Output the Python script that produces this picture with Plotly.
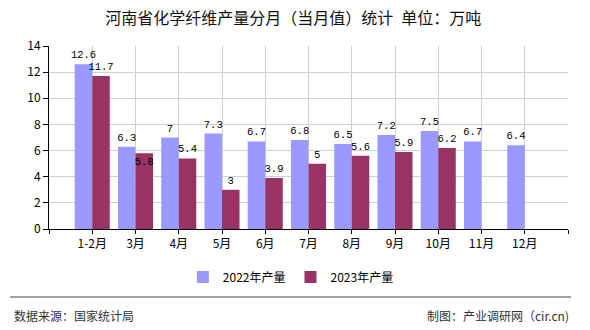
import plotly.graph_objects as go

categories = ["1-2月", "3月", "4月", "5月", "6月", "7月", "8月", "9月", "10月", "11月", "12月"]
values_2022 = [12.6, 6.3, 7, 7.3, 6.7, 6.8, 6.5, 7.2, 7.5, 6.7, 6.4]
values_2023 = [11.7, 5.8, 5.4, 3, 3.9, 5, 5.6, 5.9, 6.2]
series_names = ["2022年产量", "2023年产量"]
y_ticks = [0, 2, 4, 6, 8, 10, 12, 14]

title_text = "河南省化学纤维产量分月（当月值）统计\u2002单位：万吨"
source_text = "数据来源：国家统计局"
maker_text = "制图：产业调研网（cir.cn)"

CJK = "Noto Sans CJK SC, Noto Sans, sans-serif"
MONO = "Liberation Mono, DejaVu Sans Mono, monospace"

x_pos = list(range(1, len(categories) + 1))

pos_2023 = ["outside"] * len(values_2023)
pos_2023[1] = "inside"

label_font = dict(family=MONO, size=10.5, color="#000000")

fig = go.Figure()
fig.add_trace(go.Bar(
    name=series_names[0],
    x=x_pos[:len(values_2022)],
    y=values_2022,
    marker=dict(color="#9999FF", line=dict(width=0)),
    texttemplate="%{y}",
    textposition="outside",
    textangle=0,
    textfont=label_font,
    insidetextfont=label_font,
    outsidetextfont=label_font,
    constraintext="none",
    cliponaxis=False,
    hoverinfo="skip",
))
fig.add_trace(go.Bar(
    name=series_names[1],
    x=x_pos[:len(values_2023)],
    y=values_2023,
    marker=dict(color="#993366", line=dict(width=0)),
    texttemplate="%{y}",
    textposition=pos_2023,
    insidetextanchor="end",
    textangle=0,
    textfont=label_font,
    insidetextfont=label_font,
    outsidetextfont=label_font,
    constraintext="none",
    cliponaxis=False,
    hoverinfo="skip",
))

fig.update_layout(
    width=590,
    height=330,
    margin=dict(l=49, r=22, t=46, b=101),
    paper_bgcolor="#FFFFFF",
    plot_bgcolor="#FFFFFF",
    barmode="group",
    bargap=0.19,
    bargroupgap=0,
    title=dict(
        text=title_text,
        x=0.497, xanchor="center",
        y=1 - 18 / 330, yanchor="middle",
        font=dict(family=CJK, size=16, color="#111111"),
    ),
    xaxis=dict(
        range=[0, len(categories) + 1],
        tickmode="array",
        tickvals=list(range(0, len(categories) + 2)),
        ticktext=[""] + categories + [""],
        showgrid=True,
        gridcolor="#D0D0D0",
        gridwidth=1,
        showline=True,
        linecolor="#000000",
        linewidth=1,
        ticks="outside",
        ticklen=4,
        tickcolor="#000000",
        tickfont=dict(family=CJK, size=12, color="#000000"),
        zeroline=False,
        fixedrange=True,
    ),
    yaxis=dict(
        range=[0, 14],
        tickmode="array",
        tickvals=y_ticks,
        showgrid=True,
        gridcolor="#D0D0D0",
        gridwidth=1,
        showline=True,
        linecolor="#000000",
        linewidth=1,
        ticks="outside",
        ticklen=5,
        tickcolor="#000000",
        tickfont=dict(family=CJK, size=12, color="#000000"),
        zeroline=False,
        fixedrange=True,
    ),
    legend=dict(
        orientation="h",
        x=0.466, xanchor="center",
        y=-0.262, yanchor="middle",
        font=dict(family=CJK, size=12, color="#000000"),
        itemwidth=30,
        bgcolor="rgba(0,0,0,0)",
        traceorder="normal",
    ),
    showlegend=True,
    shapes=[
        dict(type="line", xref="paper", yref="paper",
             x0=(10 - 49) / 519, x1=(571 - 49) / 519,
             y0=(229 - 297) / 183.3, y1=(229 - 297) / 183.3,
             line=dict(color="#808080", width=1.5)),
    ],
    annotations=[
        dict(text=source_text, xref="paper", yref="paper",
             x=(12 - 49) / 519, y=(229 - 316) / 183.3,
             xanchor="left", yanchor="middle", showarrow=False,
             font=dict(family=CJK, size=12, color="#333333")),
        dict(text=maker_text, xref="paper", yref="paper",
             x=(571 - 49) / 519, y=(229 - 316) / 183.3,
             xanchor="right", yanchor="middle", showarrow=False,
             font=dict(family=CJK, size=12, color="#333333")),
    ],
)

fig.write_html("out.html", config={"displayModeBar": False})
